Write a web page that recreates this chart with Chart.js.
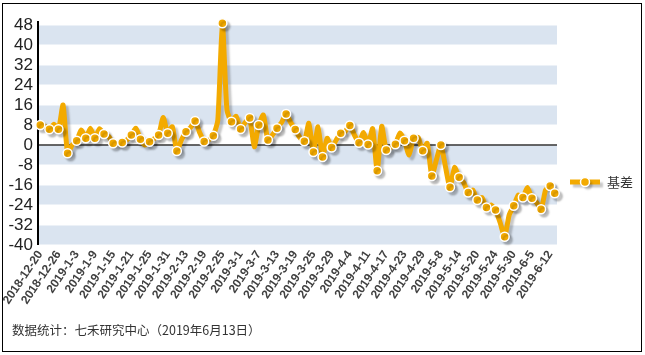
<!DOCTYPE html>
<html><head><meta charset="utf-8">
<script src="https://cdn.jsdelivr.net/npm/chart.js@4"></script>
<style>
html,body{margin:0;padding:0;background:#fff;}
#wrap{position:relative;width:645px;height:355px;overflow:hidden;}
#frame{position:absolute;left:2px;top:3px;width:640px;height:349px;border:1px solid #000;box-sizing:border-box;pointer-events:none;}
#c{position:absolute;left:0;top:0;}
#foot{position:absolute;left:12px;top:320px;font:12.5px "Noto Sans CJK SC",sans-serif;color:#333;white-space:nowrap;}
</style></head>
<body><div id="wrap"><canvas id="c" width="645" height="355" style="width:645px;height:355px"></canvas><div id="frame"></div><div id="foot">数据统计：七禾研究中心（2019年6月13日）</div></div>
<script>
const categories = [
"2018-12-20","2018-12-21","2018-12-24","2018-12-25","2018-12-26","2018-12-27","2018-12-28",
"2019-1-2","2019-1-3","2019-1-4","2019-1-7","2019-1-8","2019-1-9","2019-1-10","2019-1-11","2019-1-14","2019-1-15","2019-1-16","2019-1-17","2019-1-18","2019-1-21","2019-1-22","2019-1-23","2019-1-24","2019-1-25","2019-1-28","2019-1-29","2019-1-30","2019-1-31",
"2019-2-1","2019-2-11","2019-2-12","2019-2-13","2019-2-14","2019-2-15","2019-2-18","2019-2-19","2019-2-20","2019-2-21","2019-2-22","2019-2-25","2019-2-26","2019-2-27","2019-2-28",
"2019-3-1","2019-3-4","2019-3-5","2019-3-6","2019-3-7","2019-3-8","2019-3-11","2019-3-12","2019-3-13","2019-3-14","2019-3-15","2019-3-18","2019-3-19","2019-3-20","2019-3-21","2019-3-22","2019-3-25","2019-3-26","2019-3-27","2019-3-28","2019-3-29",
"2019-4-1","2019-4-2","2019-4-3","2019-4-4","2019-4-8","2019-4-9","2019-4-10","2019-4-11","2019-4-12","2019-4-15","2019-4-16","2019-4-17","2019-4-18","2019-4-19","2019-4-22","2019-4-23","2019-4-24","2019-4-25","2019-4-26","2019-4-29","2019-4-30",
"2019-5-6","2019-5-7","2019-5-8","2019-5-9","2019-5-10","2019-5-13","2019-5-14","2019-5-15","2019-5-16","2019-5-17","2019-5-20","2019-5-21","2019-5-22","2019-5-23","2019-5-24","2019-5-27","2019-5-28","2019-5-29","2019-5-30","2019-5-31",
"2019-6-3","2019-6-4","2019-6-5","2019-6-6","2019-6-10","2019-6-11","2019-6-12","2019-6-13"
];
const basis = [
8,7.5,6.3,8.3,6.3,16,-3.3,0,1.7,6,
2.7,6.7,2.7,6.5,4.4,3.5,0.7,0.5,1,2,
4,6.7,2.3,0,1.3,2.5,4,11,4.7,7.3,
-2.4,2,5.3,7,9.6,5,1.4,2,3.7,10,
48.7,14,9.3,11.5,6.4,9,10.8,-0.7,8,12,
2,4,6.7,9,12.4,9,6.2,3,1.5,8.7,
-2.8,7.3,-4.8,2.7,-1,2,4.7,5.5,7.8,4,
0.9,5,0.2,6.5,-10.3,7.5,-2,-1,0.3,4.8,
1.7,-4,2.7,3,-2.3,0.7,-12.4,-6,0,-8.7,
-16.9,-9,-12.9,-15,-19,-18,-22,-21,-25,-24,
-26,-31,-36.7,-28,-24.3,-20,-21,-17,-21.3,-23,
-25.7,-18,-16.4,-19.3
];
const yTicks = [48,40,32,24,16,8,0,-8,-16,-24,-32,-40];
const seriesName = "基差";

const ORANGE = '#f3aa00';
const bandsPlugin = {
  id:'bands',
  beforeDatasetsDraw(chart){
    const {ctx, chartArea:a, scales:{y}} = chart;
    ctx.save();
    ctx.fillStyle = '#dae4f0';
    for (let k=0;k<yTicks.length-1;k+=2){
      const t = y.getPixelForValue(yTicks[k]), b = y.getPixelForValue(yTicks[k+1]);
      ctx.fillRect(a.left+1, t+0.5, a.right-a.left-1, b-t-1);
    }
    const z = y.getPixelForValue(0);
    ctx.strokeStyle = '#333';
    ctx.lineWidth = 1.6;
    ctx.beginPath(); ctx.moveTo(a.left, z); ctx.lineTo(a.right, z); ctx.stroke();
    ctx.strokeStyle = '#000';
    ctx.lineWidth = 2;
    ctx.beginPath(); ctx.moveTo(a.left, a.top-4); ctx.lineTo(a.left, a.bottom); ctx.stroke();
    ctx.restore();
  }
};
const shadowPlugin = {
  id:'shadow',
  beforeDatasetDraw(chart){
    const ctx = chart.ctx; ctx.save();
    ctx.shadowColor='rgba(0,0,0,0.22)'; ctx.shadowBlur=2; ctx.shadowOffsetX=3; ctx.shadowOffsetY=3;
  },
  afterDatasetDraw(chart){ chart.ctx.restore(); }
};
const legendPlugin = {
  id:'customLegend',
  afterDraw(chart){
    const ctx = chart.ctx; const y = 182;
    ctx.save();
    ctx.shadowColor='rgba(0,0,0,0.22)'; ctx.shadowBlur=2; ctx.shadowOffsetX=3; ctx.shadowOffsetY=3;
    ctx.strokeStyle = ORANGE; ctx.lineWidth = 5; ctx.lineCap='butt';
    ctx.beginPath(); ctx.moveTo(570,y); ctx.lineTo(600,y); ctx.stroke();
    ctx.beginPath(); ctx.arc(585,y,4.5,0,Math.PI*2); ctx.fillStyle=ORANGE; ctx.fill();
    ctx.shadowColor='transparent';
    ctx.lineWidth=1.5; ctx.strokeStyle='#fff'; ctx.stroke();
    ctx.fillStyle='#333'; ctx.font='13px "Noto Sans CJK SC", sans-serif'; ctx.textBaseline='middle';
    ctx.fillText(seriesName, 607, y);
    ctx.restore();
  }
};

new Chart(document.getElementById('c'), {
  type:'line',
  data:{ labels:categories, datasets:[{
    label:seriesName, data:basis,
    borderColor:ORANGE, borderWidth:5, borderJoinStyle:'round',
    backgroundColor:ORANGE,
    pointRadius:(c)=> (c.dataIndex%2===0 || c.dataIndex===basis.length-1) ? 4.5 : 0,
    pointBackgroundColor:ORANGE, pointBorderColor:'#fff', pointBorderWidth:1.5,
    tension:0.2, clip:false
  }]},
  options:{
    responsive:false, animation:false,
    layout:{padding:{top:25,right:88,left:0,bottom:0}},
    plugins:{legend:{display:false}, tooltip:{enabled:false}},
    scales:{
      x:{
        offset:true,
        grid:{display:false, drawTicks:false},
        border:{display:false},
        afterFit(s){ s.height = 110; },
        ticks:{autoSkip:false, maxRotation:56, minRotation:56, padding:3,
          color:'#404040', font:{family:'"Liberation Sans", Arial, sans-serif', size:12, weight:'bold'},
          callback:(v,i)=> i%4===0 ? categories[i] : ''}
      },
      y:{
        min:-40, max:48,
        afterBuildTicks(s){ s.ticks = yTicks.map(v=>({value:v})); },
        afterFit(s){ s.width = 38; },
        grid:{display:false, drawTicks:false},
        border:{display:false},
        ticks:{autoSkip:false, padding:5, color:'#222', font:{family:'"Liberation Sans", Arial, sans-serif', size:17}}
      }
    }
  },
  plugins:[bandsPlugin, shadowPlugin, legendPlugin]
});
</script>
</body></html>
